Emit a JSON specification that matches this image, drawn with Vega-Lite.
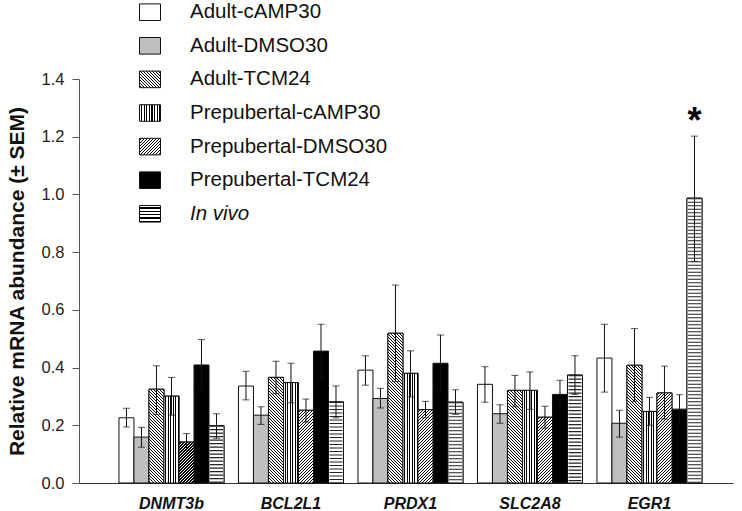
{
  "$schema": "https://vega.github.io/schema/vega-lite/v6.json",
  "width": 654,
  "height": 404,
  "autosize": "none",
  "padding": {"left": 79, "top": 79, "right": 9, "bottom": 28},
  "background": "white",
  "params": [
    {"name": "hatch", "value": [
      {"offset":0,"color":"#fff"},{"offset":0.01,"color":"#fff"},{"offset":0.01,"color":"#000"},{"offset":0.01667,"color":"#000"},
      {"offset":0.01667,"color":"#fff"},{"offset":0.02667,"color":"#fff"},{"offset":0.02667,"color":"#000"},{"offset":0.03333,"color":"#000"},
      {"offset":0.03333,"color":"#fff"},{"offset":0.04333,"color":"#fff"},{"offset":0.04333,"color":"#000"},{"offset":0.05,"color":"#000"},
      {"offset":0.05,"color":"#fff"},{"offset":0.06,"color":"#fff"},{"offset":0.06,"color":"#000"},{"offset":0.06667,"color":"#000"},
      {"offset":0.06667,"color":"#fff"},{"offset":0.07667,"color":"#fff"},{"offset":0.07667,"color":"#000"},{"offset":0.08333,"color":"#000"},
      {"offset":0.08333,"color":"#fff"},{"offset":0.09333,"color":"#fff"},{"offset":0.09333,"color":"#000"},{"offset":0.1,"color":"#000"},
      {"offset":0.1,"color":"#fff"},{"offset":0.11,"color":"#fff"},{"offset":0.11,"color":"#000"},{"offset":0.11667,"color":"#000"},
      {"offset":0.11667,"color":"#fff"},{"offset":0.12667,"color":"#fff"},{"offset":0.12667,"color":"#000"},{"offset":0.13333,"color":"#000"},
      {"offset":0.13333,"color":"#fff"},{"offset":0.14333,"color":"#fff"},{"offset":0.14333,"color":"#000"},{"offset":0.15,"color":"#000"},
      {"offset":0.15,"color":"#fff"},{"offset":0.16,"color":"#fff"},{"offset":0.16,"color":"#000"},{"offset":0.16667,"color":"#000"},
      {"offset":0.16667,"color":"#fff"},{"offset":0.17667,"color":"#fff"},{"offset":0.17667,"color":"#000"},{"offset":0.18333,"color":"#000"},
      {"offset":0.18333,"color":"#fff"},{"offset":0.19333,"color":"#fff"},{"offset":0.19333,"color":"#000"},{"offset":0.2,"color":"#000"},
      {"offset":0.2,"color":"#fff"},{"offset":0.21,"color":"#fff"},{"offset":0.21,"color":"#000"},{"offset":0.21667,"color":"#000"},
      {"offset":0.21667,"color":"#fff"},{"offset":0.22667,"color":"#fff"},{"offset":0.22667,"color":"#000"},{"offset":0.23333,"color":"#000"},
      {"offset":0.23333,"color":"#fff"},{"offset":0.24333,"color":"#fff"},{"offset":0.24333,"color":"#000"},{"offset":0.25,"color":"#000"},
      {"offset":0.25,"color":"#fff"},{"offset":0.26,"color":"#fff"},{"offset":0.26,"color":"#000"},{"offset":0.26667,"color":"#000"},
      {"offset":0.26667,"color":"#fff"},{"offset":0.27667,"color":"#fff"},{"offset":0.27667,"color":"#000"},{"offset":0.28333,"color":"#000"},
      {"offset":0.28333,"color":"#fff"},{"offset":0.29333,"color":"#fff"},{"offset":0.29333,"color":"#000"},{"offset":0.3,"color":"#000"},
      {"offset":0.3,"color":"#fff"},{"offset":0.31,"color":"#fff"},{"offset":0.31,"color":"#000"},{"offset":0.31667,"color":"#000"},
      {"offset":0.31667,"color":"#fff"},{"offset":0.32667,"color":"#fff"},{"offset":0.32667,"color":"#000"},{"offset":0.33333,"color":"#000"},
      {"offset":0.33333,"color":"#fff"},{"offset":0.34333,"color":"#fff"},{"offset":0.34333,"color":"#000"},{"offset":0.35,"color":"#000"},
      {"offset":0.35,"color":"#fff"},{"offset":0.36,"color":"#fff"},{"offset":0.36,"color":"#000"},{"offset":0.36667,"color":"#000"},
      {"offset":0.36667,"color":"#fff"},{"offset":0.37667,"color":"#fff"},{"offset":0.37667,"color":"#000"},{"offset":0.38333,"color":"#000"},
      {"offset":0.38333,"color":"#fff"},{"offset":0.39333,"color":"#fff"},{"offset":0.39333,"color":"#000"},{"offset":0.4,"color":"#000"},
      {"offset":0.4,"color":"#fff"},{"offset":0.41,"color":"#fff"},{"offset":0.41,"color":"#000"},{"offset":0.41667,"color":"#000"},
      {"offset":0.41667,"color":"#fff"},{"offset":0.42667,"color":"#fff"},{"offset":0.42667,"color":"#000"},{"offset":0.43333,"color":"#000"},
      {"offset":0.43333,"color":"#fff"},{"offset":0.44333,"color":"#fff"},{"offset":0.44333,"color":"#000"},{"offset":0.45,"color":"#000"},
      {"offset":0.45,"color":"#fff"},{"offset":0.46,"color":"#fff"},{"offset":0.46,"color":"#000"},{"offset":0.46667,"color":"#000"},
      {"offset":0.46667,"color":"#fff"},{"offset":0.47667,"color":"#fff"},{"offset":0.47667,"color":"#000"},{"offset":0.48333,"color":"#000"},
      {"offset":0.48333,"color":"#fff"},{"offset":0.49333,"color":"#fff"},{"offset":0.49333,"color":"#000"},{"offset":0.5,"color":"#000"},
      {"offset":0.5,"color":"#fff"},{"offset":0.51,"color":"#fff"},{"offset":0.51,"color":"#000"},{"offset":0.51667,"color":"#000"},
      {"offset":0.51667,"color":"#fff"},{"offset":0.52667,"color":"#fff"},{"offset":0.52667,"color":"#000"},{"offset":0.53333,"color":"#000"},
      {"offset":0.53333,"color":"#fff"},{"offset":0.54333,"color":"#fff"},{"offset":0.54333,"color":"#000"},{"offset":0.55,"color":"#000"},
      {"offset":0.55,"color":"#fff"},{"offset":0.56,"color":"#fff"},{"offset":0.56,"color":"#000"},{"offset":0.56667,"color":"#000"},
      {"offset":0.56667,"color":"#fff"},{"offset":0.57667,"color":"#fff"},{"offset":0.57667,"color":"#000"},{"offset":0.58333,"color":"#000"},
      {"offset":0.58333,"color":"#fff"},{"offset":0.59333,"color":"#fff"},{"offset":0.59333,"color":"#000"},{"offset":0.6,"color":"#000"},
      {"offset":0.6,"color":"#fff"},{"offset":0.61,"color":"#fff"},{"offset":0.61,"color":"#000"},{"offset":0.61667,"color":"#000"},
      {"offset":0.61667,"color":"#fff"},{"offset":0.62667,"color":"#fff"},{"offset":0.62667,"color":"#000"},{"offset":0.63333,"color":"#000"},
      {"offset":0.63333,"color":"#fff"},{"offset":0.64333,"color":"#fff"},{"offset":0.64333,"color":"#000"},{"offset":0.65,"color":"#000"},
      {"offset":0.65,"color":"#fff"},{"offset":0.66,"color":"#fff"},{"offset":0.66,"color":"#000"},{"offset":0.66667,"color":"#000"},
      {"offset":0.66667,"color":"#fff"},{"offset":0.67667,"color":"#fff"},{"offset":0.67667,"color":"#000"},{"offset":0.68333,"color":"#000"},
      {"offset":0.68333,"color":"#fff"},{"offset":0.69333,"color":"#fff"},{"offset":0.69333,"color":"#000"},{"offset":0.7,"color":"#000"},
      {"offset":0.7,"color":"#fff"},{"offset":0.71,"color":"#fff"},{"offset":0.71,"color":"#000"},{"offset":0.71667,"color":"#000"},
      {"offset":0.71667,"color":"#fff"},{"offset":0.72667,"color":"#fff"},{"offset":0.72667,"color":"#000"},{"offset":0.73333,"color":"#000"},
      {"offset":0.73333,"color":"#fff"},{"offset":0.74333,"color":"#fff"},{"offset":0.74333,"color":"#000"},{"offset":0.75,"color":"#000"},
      {"offset":0.75,"color":"#fff"},{"offset":0.76,"color":"#fff"},{"offset":0.76,"color":"#000"},{"offset":0.76667,"color":"#000"},
      {"offset":0.76667,"color":"#fff"},{"offset":0.77667,"color":"#fff"},{"offset":0.77667,"color":"#000"},{"offset":0.78333,"color":"#000"},
      {"offset":0.78333,"color":"#fff"},{"offset":0.79333,"color":"#fff"},{"offset":0.79333,"color":"#000"},{"offset":0.8,"color":"#000"},
      {"offset":0.8,"color":"#fff"},{"offset":0.81,"color":"#fff"},{"offset":0.81,"color":"#000"},{"offset":0.81667,"color":"#000"},
      {"offset":0.81667,"color":"#fff"},{"offset":0.82667,"color":"#fff"},{"offset":0.82667,"color":"#000"},{"offset":0.83333,"color":"#000"},
      {"offset":0.83333,"color":"#fff"},{"offset":0.84333,"color":"#fff"},{"offset":0.84333,"color":"#000"},{"offset":0.85,"color":"#000"},
      {"offset":0.85,"color":"#fff"},{"offset":0.86,"color":"#fff"},{"offset":0.86,"color":"#000"},{"offset":0.86667,"color":"#000"},
      {"offset":0.86667,"color":"#fff"},{"offset":0.87667,"color":"#fff"},{"offset":0.87667,"color":"#000"},{"offset":0.88333,"color":"#000"},
      {"offset":0.88333,"color":"#fff"},{"offset":0.89333,"color":"#fff"},{"offset":0.89333,"color":"#000"},{"offset":0.9,"color":"#000"},
      {"offset":0.9,"color":"#fff"},{"offset":0.91,"color":"#fff"},{"offset":0.91,"color":"#000"},{"offset":0.91667,"color":"#000"},
      {"offset":0.91667,"color":"#fff"},{"offset":0.92667,"color":"#fff"},{"offset":0.92667,"color":"#000"},{"offset":0.93333,"color":"#000"},
      {"offset":0.93333,"color":"#fff"},{"offset":0.94333,"color":"#fff"},{"offset":0.94333,"color":"#000"},{"offset":0.95,"color":"#000"},
      {"offset":0.95,"color":"#fff"},{"offset":0.96,"color":"#fff"},{"offset":0.96,"color":"#000"},{"offset":0.96667,"color":"#000"},
      {"offset":0.96667,"color":"#fff"},{"offset":0.97667,"color":"#fff"},{"offset":0.97667,"color":"#000"},{"offset":0.98333,"color":"#000"},
      {"offset":0.98333,"color":"#fff"},{"offset":0.99333,"color":"#fff"},{"offset":0.99333,"color":"#000"},{"offset":1,"color":"#000"}
    ]}
  ],
  "data": {"values": [
    {"gene":"DNMT3b","group":"Adult-cAMP30","mean":0.226,"lo":0.194,"hi":0.259},
    {"gene":"DNMT3b","group":"Adult-DMSO30","mean":0.159,"lo":0.124,"hi":0.193},
    {"gene":"DNMT3b","group":"Adult-TCM24","mean":0.325,"lo":0.238,"hi":0.406},
    {"gene":"DNMT3b","group":"Prepubertal-cAMP30","mean":0.301,"lo":0.235,"hi":0.366},
    {"gene":"DNMT3b","group":"Prepubertal-DMSO30","mean":0.142,"lo":0.114,"hi":0.171},
    {"gene":"DNMT3b","group":"Prepubertal-TCM24","mean":0.409,"lo":0.321,"hi":0.497},
    {"gene":"DNMT3b","group":"In vivo","mean":0.199,"lo":0.155,"hi":0.240},
    {"gene":"BCL2L1","group":"Adult-cAMP30","mean":0.336,"lo":0.288,"hi":0.387},
    {"gene":"BCL2L1","group":"Adult-DMSO30","mean":0.235,"lo":0.203,"hi":0.264},
    {"gene":"BCL2L1","group":"Adult-TCM24","mean":0.366,"lo":0.310,"hi":0.422},
    {"gene":"BCL2L1","group":"Prepubertal-cAMP30","mean":0.348,"lo":0.278,"hi":0.415},
    {"gene":"BCL2L1","group":"Prepubertal-DMSO30","mean":0.252,"lo":0.211,"hi":0.291},
    {"gene":"BCL2L1","group":"Prepubertal-TCM24","mean":0.457,"lo":0.364,"hi":0.550},
    {"gene":"BCL2L1","group":"In vivo","mean":0.281,"lo":0.226,"hi":0.336},
    {"gene":"PRDX1","group":"Adult-cAMP30","mean":0.391,"lo":0.339,"hi":0.441},
    {"gene":"PRDX1","group":"Adult-DMSO30","mean":0.293,"lo":0.260,"hi":0.328},
    {"gene":"PRDX1","group":"Adult-TCM24","mean":0.519,"lo":0.352,"hi":0.686},
    {"gene":"PRDX1","group":"Prepubertal-cAMP30","mean":0.380,"lo":0.298,"hi":0.458},
    {"gene":"PRDX1","group":"Prepubertal-DMSO30","mean":0.254,"lo":0.226,"hi":0.283},
    {"gene":"PRDX1","group":"Prepubertal-TCM24","mean":0.415,"lo":0.317,"hi":0.513},
    {"gene":"PRDX1","group":"In vivo","mean":0.280,"lo":0.238,"hi":0.323},
    {"gene":"SLC2A8","group":"Adult-cAMP30","mean":0.342,"lo":0.280,"hi":0.403},
    {"gene":"SLC2A8","group":"Adult-DMSO30","mean":0.240,"lo":0.207,"hi":0.271},
    {"gene":"SLC2A8","group":"Adult-TCM24","mean":0.321,"lo":0.264,"hi":0.373},
    {"gene":"SLC2A8","group":"Prepubertal-cAMP30","mean":0.321,"lo":0.255,"hi":0.385},
    {"gene":"SLC2A8","group":"Prepubertal-DMSO30","mean":0.228,"lo":0.190,"hi":0.266},
    {"gene":"SLC2A8","group":"Prepubertal-TCM24","mean":0.307,"lo":0.258,"hi":0.356},
    {"gene":"SLC2A8","group":"In vivo","mean":0.374,"lo":0.307,"hi":0.441},
    {"gene":"EGR1","group":"Adult-cAMP30","mean":0.433,"lo":0.315,"hi":0.550},
    {"gene":"EGR1","group":"Adult-DMSO30","mean":0.207,"lo":0.159,"hi":0.252},
    {"gene":"EGR1","group":"Adult-TCM24","mean":0.408,"lo":0.283,"hi":0.535},
    {"gene":"EGR1","group":"Prepubertal-cAMP30","mean":0.248,"lo":0.200,"hi":0.297},
    {"gene":"EGR1","group":"Prepubertal-DMSO30","mean":0.312,"lo":0.222,"hi":0.405},
    {"gene":"EGR1","group":"Prepubertal-TCM24","mean":0.256,"lo":0.206,"hi":0.306},
    {"gene":"EGR1","group":"In vivo","mean":0.987,"lo":0.768,"hi":1.202}
  ]},
  "encoding": {
    "x": {"field": "gene", "type": "nominal", "sort": null, "title": null,
          "scale": {"paddingInner": 0.121, "paddingOuter": 0.297, "align": 0.563}},
    "xOffset": {"field": "group", "type": "nominal", "sort": null,
          "scale": {"paddingInner": 0, "paddingOuter": 0}}
  },
  "layer": [
    {
      "mark": {"type": "bar", "stroke": "#111", "strokeWidth": 1},
      "encoding": {
        "y": {"field": "mean", "type": "quantitative", "title": "Relative mRNA abundance (± SEM)",
              "scale": {"domain": [0, 1.4], "nice": false},
              "axis": {"values": [0, 0.2, 0.4, 0.6, 0.8, 1.0, 1.2, 1.4], "format": ".1f"}},
        "color": {"field": "group", "type": "nominal", "sort": null,
          "scale": {"domain": ["Adult-cAMP30","Adult-DMSO30","Adult-TCM24","Prepubertal-cAMP30","Prepubertal-DMSO30","Prepubertal-TCM24","In vivo"],
                    "range": [
                      "#ffffff",
                      "#bfbfbf",
                      {"expr": "{gradient: 'linear', x1: 0, y1: 1, x2: 5.275, y2: -3.17, stops: hatch}"},
                      {"expr": "{gradient: 'linear', x1: 0, y1: 0, x2: 7.43, y2: 0, stops: hatch}"},
                      {"expr": "{gradient: 'linear', x1: 0, y1: 0, x2: 5.275, y2: 4.17, stops: hatch}"},
                      "#000000",
                      {"expr": "{gradient: 'linear', x1: 0, y1: 0, x2: 0, y2: 11.93, stops: hatch}"}
                    ]},
          "legend": {
            "title": null, "orient": "none", "legendX": 60, "legendY": -77.8,
            "padding": 0, "offset": 0,
            "symbolType": "M-1,-0.79H1V0.79H-1Z", "symbolSize": 441,
            "symbolStrokeColor": "#111", "symbolStrokeWidth": 1, "symbolOpacity": 1,
            "labelFontSize": 20.5, "labelFont": "Liberation Sans", "labelColor": "#111",
            "labelOffset": 29, "rowPadding": 11.6, "labelLimit": 0,
            "encode": {
              "labels": {"update": {
                "fontStyle": {"signal": "datum.label === 'In vivo' ? 'italic' : 'normal'"}
              }}
            }
          }
        }
      }
    },
    {
      "transform": [{"filter": {"field": "group", "oneOf": ["Adult-TCM24", "Prepubertal-cAMP30", "Prepubertal-DMSO30", "In vivo"]}}],
      "mark": {"type": "bar", "stroke": "#111", "strokeWidth": 1,
        "fill": {"expr": "datum.group === 'In vivo' ? 'white' : datum.group === 'Prepubertal-cAMP30' ? {gradient: 'linear', x1: 0, y1: 0, x2: 10, y2: 0, stops: hatch} : datum.group === 'Adult-TCM24' ? {gradient: 'linear', x1: 0, y1: 1, x2: 2700/(225+pow(scale('y',0)-scale('y',datum.mean),2)), y2: 1-180*(scale('y',0)-scale('y',datum.mean))/(225+pow(scale('y',0)-scale('y',datum.mean),2)), stops: hatch} : {gradient: 'linear', x1: 0, y1: 0, x2: 2700/(225+pow(scale('y',0)-scale('y',datum.mean),2)), y2: 180*(scale('y',0)-scale('y',datum.mean))/(225+pow(scale('y',0)-scale('y',datum.mean),2)), stops: hatch}"}},
      "encoding": {
        "y": {"field": "mean", "type": "quantitative", "title": "Relative mRNA abundance (± SEM)"}
      }
    },
    {
      "transform": [{"filter": "datum.group === 'In vivo'"}],
      "mark": {"type": "rule", "strokeWidth": 13, "strokeDash": [1.1, 2.4], "color": "#222", "strokeCap": "butt"},
      "encoding": {
        "y": {"field": "mean", "type": "quantitative", "title": "Relative mRNA abundance (± SEM)"},
        "y2": {"datum": 0}
      }
    },
    {
      "mark": {"type": "rule", "color": "#111", "strokeWidth": 1},
      "encoding": {
        "y": {"field": "lo", "type": "quantitative", "title": "Relative mRNA abundance (± SEM)"},
        "y2": {"field": "hi", "title": "Relative mRNA abundance (± SEM)"}
      }
    },
    {
      "mark": {"type": "tick", "orient": "horizontal", "size": 7, "thickness": 1, "color": "#111"},
      "encoding": {
        "y": {"field": "hi", "type": "quantitative", "title": "Relative mRNA abundance (± SEM)"}
      }
    },
    {
      "mark": {"type": "tick", "orient": "horizontal", "size": 7, "thickness": 1, "color": "#111"},
      "encoding": {
        "y": {"field": "lo", "type": "quantitative", "title": "Relative mRNA abundance (± SEM)"}
      }
    },
    {
      "transform": [{"filter": "datum.gene === 'EGR1' && datum.group === 'In vivo'"}],
      "mark": {"type": "text", "text": "*", "fontSize": 36, "fontWeight": "bold", "baseline": "alphabetic", "dy": -3, "font": "Liberation Sans", "color": "#000"},
      "encoding": {
        "y": {"field": "hi", "type": "quantitative", "title": "Relative mRNA abundance (± SEM)"}
      }
    }
  ],
  "config": {
    "font": "Liberation Sans",
    "view": {"stroke": null},
    "axisY": {
      "grid": false,
      "tickSize": 7, "labelPadding": 8, "labelFontSize": 16.5, "labelColor": "#222",
      "tickColor": "#555", "domainColor": "#555", "labelFont": "Liberation Sans",
      "titleFontSize": 21, "titleFontWeight": "bold", "titleColor": "#111", "titlePadding": 14,
      "titleFont": "Liberation Sans"
    },
    "axisX": {
      "ticks": false, "labelPadding": 12, "labelFontSize": 16, "labelFontWeight": "bold",
      "labelFontStyle": "italic", "labelColor": "#111", "domainColor": "#333", "labelAngle": 0,
      "grid": false, "labelFont": "Liberation Sans"
    }
  }
}
